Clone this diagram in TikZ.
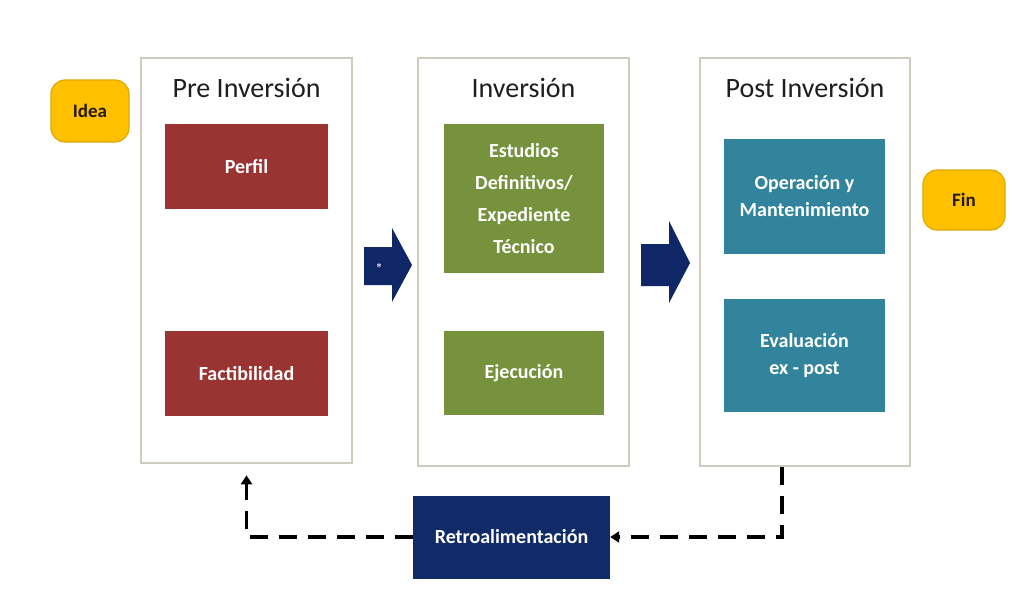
\documentclass[tikz,border=0pt]{standalone}
\usepackage{fontspec}
\setmainfont{Carlito}
\usetikzlibrary{arrows.meta}
\definecolor{redbox}{HTML}{9A3432}
\definecolor{greenbox}{HTML}{76923C}
\definecolor{tealbox}{HTML}{31849B}
\definecolor{navybox}{HTML}{112B69}
\definecolor{navyarrow}{HTML}{0F2766}
\definecolor{gold}{HTML}{FFC000}
\definecolor{goldline}{HTML}{E0A800}
\definecolor{framec}{HTML}{CFCBBF}
\definecolor{titlec}{HTML}{1E1E1E}
\tikzset{
  x=1pt, y=-1pt,
  frame/.style={draw=framec, line width=2.5pt, fill=white},
  title/.style={font=\fontsize{28}{32}\selectfont, text=titlec, anchor=center},
  box/.style={minimum width=#1, inner sep=2pt, align=center, text=white,
     font=\fontsize{20}{27}\selectfont\bfseries},
  pill/.style={draw=goldline, line width=1.2pt, fill=gold, rounded corners=14pt,
     text=black!80!brown, font=\fontsize{19}{22}\selectfont\bfseries},
  fb/.style={line width=3.5pt, dash pattern=on 18pt off 11pt, -{Triangle[length=9pt,width=11pt]}}
}
\begin{document}
\begin{tikzpicture}
\useasboundingbox (0,0) rectangle (1035,605);
\fill[white] (0,0) rectangle (1035,605);
% frames
\node[frame, minimum width=211pt, minimum height=405pt, inner sep=0pt] (pre) at (246.5,260.5) {};
\node[frame, minimum width=211pt, minimum height=408pt, inner sep=0pt] (inv) at (523.5,262) {};
\node[frame, minimum width=210pt, minimum height=408pt, inner sep=0pt] (post) at (805,262) {};
% titles
\node[title] (t1) at (246.5,88) {Pre Inversión};
\node[title] (t2) at (523.5,88) {Inversión};
\node[title] (t3) at (805,88) {Post Inversión};
% boxes
\node[box=163pt, fill=redbox, minimum height=85pt] (perfil) at (246.5,166.5) {Perfil};
\node[box=163pt, fill=redbox, minimum height=85pt] (fact) at (246.5,373.5) {Factibilidad};
\node[box=160pt, fill=greenbox, minimum height=149pt] (est) at (524,198.5) {Estudios\\[5pt]Definitivos/\\[5pt]Expediente\\[5pt]Técnico};
\node[box=160pt, fill=greenbox, minimum height=84pt] (ejec) at (524,373) {Ejecución};
\node[box=161pt, fill=tealbox, minimum height=115pt] (oper) at (804.5,196.5) {Operación y\\Mantenimiento};
\node[box=161pt, fill=tealbox, minimum height=113pt] (eval) at (804.5,355.5) {Evaluación\\ex - post};
% pills
\node[pill, minimum width=78pt, minimum height=62pt] (idea) at (90,111) {Idea};
\node[pill, minimum width=82pt, minimum height=60pt] (fin) at (964,200) {Fin};
% block arrows
\fill[navyarrow] (364,247) -- (392,247) -- (392,228) -- (412,265) -- (392,302) -- (392,285) -- (364,285) -- cycle;
\node[text=white!85!blue, font=\fontsize{14}{14}\selectfont\bfseries] (ast) at (379,268) {*};
\fill[navyarrow] (641,244) -- (669,244) -- (669,221) -- (690,263) -- (669,303) -- (669,286) -- (641,286) -- cycle;
% feedback
\node[box=197pt, fill=navybox, minimum height=83pt] (retro) at (511.5,537) {Retroalimentación};
\coordinate (rx) at (782,0);
\draw[fb] (post.south -| rx) |- (retro.east);
\draw[fb, shorten >=11pt] (retro.west) -| (pre.south);
\end{tikzpicture}
\end{document}
